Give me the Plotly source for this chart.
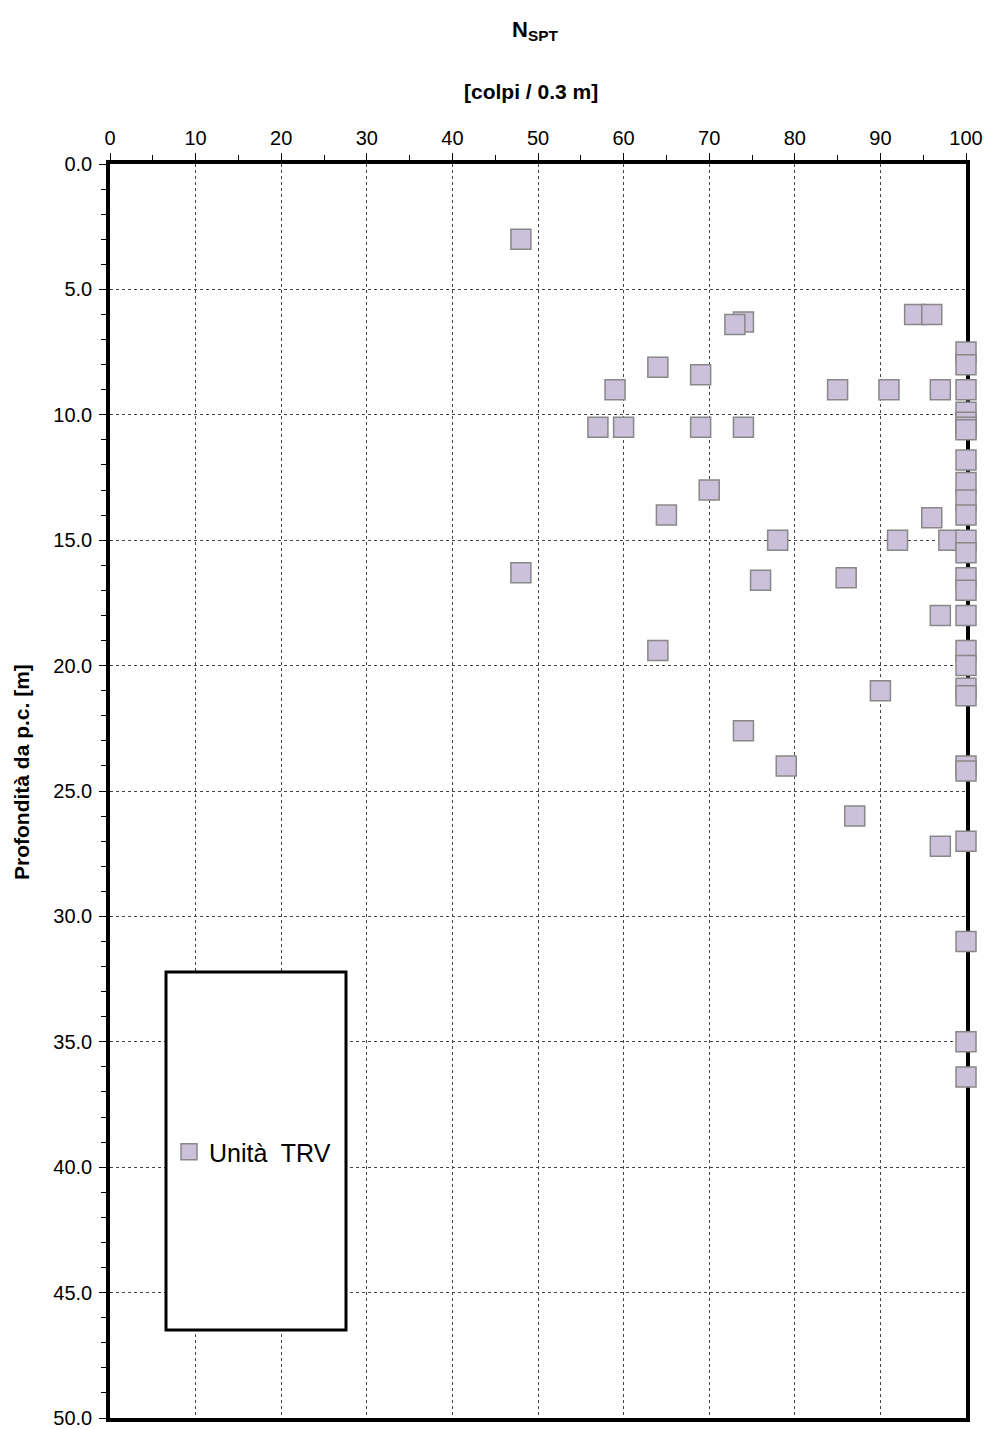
import plotly.graph_objects as go

# SPT blow counts (N per 0.3 m) against depth below ground level (m)
depth = [3.0, 6.3, 6.4, 6.0, 6.0, 7.5, 8.0, 8.1, 8.4, 9.0, 9.0, 9.0, 9.0, 9.0,
         9.9, 10.3, 10.5, 10.6, 10.5, 10.5, 10.5, 10.5, 11.8, 12.7, 13.4, 14.0,
         13.0, 14.0, 14.1, 15.0, 15.0, 15.0, 15.0, 15.5, 16.3, 16.6, 16.5, 16.5,
         17.0, 18.0, 18.0, 19.4, 19.4, 20.0, 21.0, 20.9, 21.2, 22.6, 24.0, 24.0,
         24.2, 26.0, 27.2, 27.0, 31.0, 35.0, 36.4]
nspt = [48, 74, 73, 94, 96, 100, 100, 64, 69, 59, 85, 91, 97, 100,
        100, 100, 100, 100, 57, 60, 69, 74, 100, 100, 100, 100,
        70, 65, 96, 78, 92, 98, 100, 100, 48, 76, 86, 100,
        100, 100, 97, 64, 100, 100, 90, 100, 100, 74, 79, 100,
        100, 87, 97, 100, 100, 100, 100]

series_name = "Unità\u00a0 TRV"
x_ticks = list(range(0, 101, 10))
y_ticks = [0, 5, 10, 15, 20, 25, 30, 35, 40, 45, 50]

FONT = "Liberation Sans, Arial, sans-serif"

# plot-area geometry in pixels
L, T, W, H = 110, 164, 856, 1254
FIG_W, FIG_H = 987, 1429


def px_x(p):
    return (p - L) / W


def px_y(p):
    return (T + H - p) / H


fig = go.Figure()
fig.add_trace(go.Scatter(
    x=nspt, y=depth, mode="markers", name=series_name, cliponaxis=False,
    marker=dict(symbol="square", size=20, color="#CCC1DA",
                line=dict(color="#888888", width=1.5)),
))

axis_common = dict(
    showline=True, linewidth=3.5, linecolor="black", mirror=True,
    showgrid=True, gridcolor="#444444", gridwidth=1, griddash="dot",
    zeroline=False, ticks="outside", ticklen=7, tickwidth=1, tickcolor="black",
    tickfont=dict(family=FONT, size=20, color="black"),
    automargin=False, layer="below traces",
)

fig.update_xaxes(
    **axis_common, side="top", range=[0, 100], tickvals=x_ticks,
    minor=dict(ticks="outside", dtick=5, ticklen=5, tickcolor="black", showgrid=False),
)
fig.update_yaxes(
    **axis_common, range=[50, 0], tickvals=y_ticks, tickformat=".1f",
    minor=dict(ticks="outside", dtick=1, ticklen=5, tickcolor="black", showgrid=False),
    ticklabelstandoff=3,
)

# Opaque frame behind the legend
fig.add_shape(type="rect", xref="paper", yref="paper",
              x0=px_x(166), x1=px_x(346), y0=px_y(1330), y1=px_y(972),
              line=dict(color="black", width=3), fillcolor="white", layer="above")

fig.add_annotation(text="<b>[colpi / 0.3 m]</b>", xref="paper", yref="paper",
                   x=px_x(531), y=px_y(92), xanchor="center", yanchor="middle",
                   showarrow=False, font=dict(family=FONT, size=21, color="black"))
fig.add_annotation(text="<b>Profondità da p.c. [m]</b>", xref="paper", yref="paper",
                   x=px_x(21), y=px_y(772), xanchor="center", yanchor="middle",
                   textangle=-90, showarrow=False,
                   font=dict(family=FONT, size=21, color="black"))

fig.update_layout(
    width=FIG_W, height=FIG_H,
    margin=dict(l=L, r=FIG_W - L - W, t=T, b=FIG_H - T - H),
    paper_bgcolor="white", plot_bgcolor="rgba(0,0,0,0)",
    font=dict(family=FONT, color="black"),
    title=dict(text="<b>N<sub>SPT</sub></b>", x=535 / FIG_W, xanchor="center",
               y=1 - 29 / FIG_H, yanchor="middle",
               font=dict(family=FONT, size=22, color="black")),
    showlegend=True,
    legend=dict(x=px_x(169), y=px_y(1152), xanchor="left", yanchor="middle",
                bgcolor="rgba(0,0,0,0)", borderwidth=0,
                font=dict(family=FONT, size=25, color="black"),
                itemwidth=30),
)

fig.write_html("out.html")
